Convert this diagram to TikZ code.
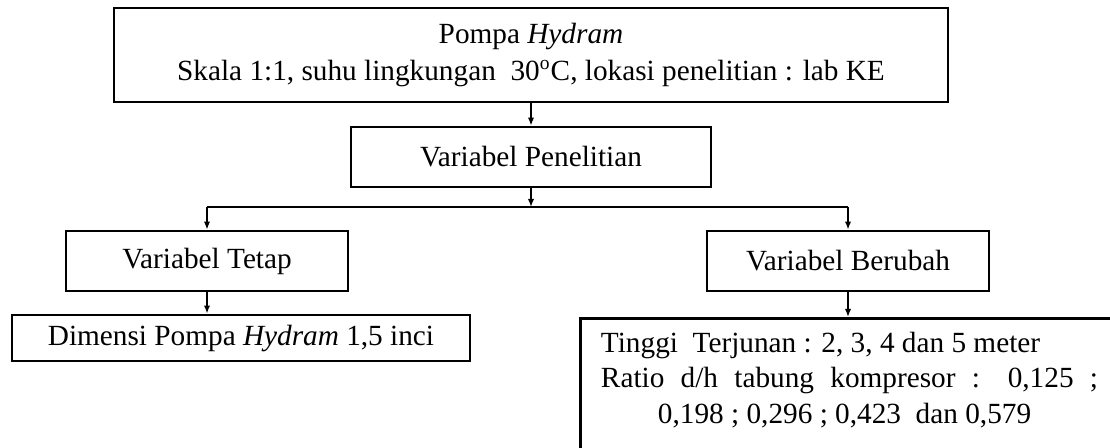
\documentclass[tikz,border=0pt]{standalone}
\usepackage{fontspec}
\setmainfont{Liberation Serif}
\usepackage{tikz}
\usetikzlibrary{arrows.meta}

\begin{document}
\begin{tikzpicture}[x=0.41pt, y=-0.41pt, line width=0.8pt,
		every node/.style={font=\fontsize{12pt}{15pt}\selectfont},
		kotak/.style={draw, line width=1.1pt, inner sep=0pt},
		panah/.style={-{Latex[length=3.3pt, width=2.6pt]}}]
				\useasboundingbox (0, 0) rectangle (1110, 447);
				\clip (0, 0) rectangle (1110, 447);
				
				\node[kotak, align=center, minimum width=342pt, minimum height=38.5pt] (pompa) at (531, 55) {Pompa \textit{Hydram}\\Skala 1:1, suhu lingkungan \ 30\textsuperscript{o}C, lokasi penelitian : lab KE};
				\node[kotak, minimum width=147.6pt, minimum height=24.6pt] (var) at (531, 157) {Variabel Penelitian};
				\node[kotak, minimum width=115.6pt, minimum height=24.6pt] (tetap) at (207, 261) {Variabel Tetap};
				\node[kotak, minimum width=115.6pt, minimum height=24.6pt] (berubah) at (848, 261) {Variabel Berubah};
				\node[kotak, minimum width=187.8pt, minimum height=18.9pt] (dimensi) at (241, 338) {Dimensi Pompa \textit{Hydram} 1,5 inci};
				\node[kotak, anchor=north west, minimum width=240pt, minimum height=68pt] (ubah) at (579, 317) {};
				
				\node[anchor=base west, inner sep=0pt] (tinggi) at (600, 352) {Tinggi \ Terjunan : 2, 3, 4 dan 5 meter};
				\node[anchor=base west, inner sep=0pt] (ratio) at (600, 387) {\makebox[203.8pt][s]{Ratio d/h tabung kompresor : 0,125 ;}};
				\node[anchor=base west, inner sep=0pt] (nilai) at (657, 423) {0,198 ; 0,296 ; 0,423 \ dan 0,579};
				
				\coordinate (cabang) at (531, 207);
				\coordinate (kiri) at (207, 207);
				\coordinate (kanan) at (848, 207);
				
				\draw [panah] (pompa) -- (var);
				\draw [panah] (var) -- (cabang);
				\draw [-] (kiri) -- (kanan);
				\draw [panah] (kiri) -- (tetap);
				\draw [panah] (kanan) -- (berubah);
				\draw [panah] (tetap.south) -- (tetap.south |- dimensi.north);
				\draw [panah] (berubah.south) -- (berubah.south |- ubah.north);
			\end{tikzpicture}
\end{document}
